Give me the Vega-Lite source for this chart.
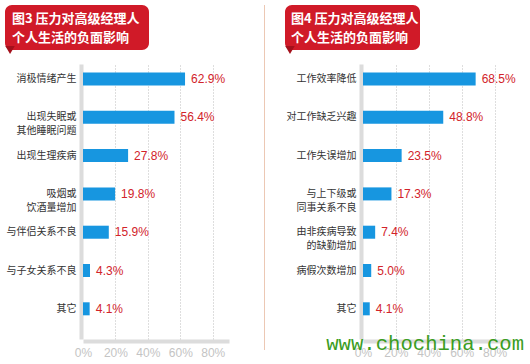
{
  "$schema": "https://vega.github.io/schema/vega-lite/v6.json",
  "background": "white",
  "padding": {"left": 5, "top": 5, "right": 10, "bottom": 0},
  "config": {
    "view": {"stroke": null},
    "font": "Noto Sans CJK SC",
    "axis": {"labelFont": "Noto Sans CJK SC"}
  },
  "datasets": {
    "left": [
      {"item": "消极情绪产生", "pct": 0.629},
      {"item": "出现失眠或\n其他睡眠问题", "pct": 0.564},
      {"item": "出现生理疾病", "pct": 0.278},
      {"item": "吸烟或\n饮酒量增加", "pct": 0.198},
      {"item": "与伴侣关系不良", "pct": 0.159},
      {"item": "与子女关系不良", "pct": 0.043},
      {"item": "其它", "pct": 0.041}
    ],
    "right": [
      {"item": "工作效率降低", "pct": 0.685},
      {"item": "对工作缺乏兴趣", "pct": 0.488},
      {"item": "工作失误增加", "pct": 0.235},
      {"item": "与上下级或\n同事关系不良", "pct": 0.173},
      {"item": "由非疾病导致\n的缺勤增加", "pct": 0.074},
      {"item": "病假次数增加", "pct": 0.05},
      {"item": "其它", "pct": 0.041}
    ],
    "titleL": [{"t": "图3  压力对高级经理人\n个人生活的负面影响"}],
    "titleR": [{"t": "图4  压力对高级经理人\n个人生活的负面影响"}],
    "empty": []
  },
  "spacing": 35,
  "hconcat": [
    {
      "spacing": 9,
      "vconcat": [
        {
          "width": 144,
          "height": 45,
          "view": {"fill": "#d01a28", "cornerRadius": 7, "stroke": null},
          "data": {"name": "titleL"},
          "layer": [
            {
              "mark": {"type": "point", "shape": "triangle-down", "filled": true, "color": "#a3101b", "opacity": 1, "size": 90},
              "encoding": {
                "x": {"datum": 0.035, "type": "quantitative", "scale": {"domain": [0, 1]}, "axis": null},
                "y": {"datum": 0, "type": "quantitative", "scale": {"domain": [0, 1]}, "axis": null}
              }
            },
            {
              "mark": {"type": "text", "align": "left", "baseline": "top", "color": "white", "fontSize": 13, "fontWeight": "bold", "lineHeight": 18.5, "lineBreak": "\n", "dx": 7, "dy": 8},
              "encoding": {
                "text": {"field": "t", "type": "nominal"},
                "x": {"datum": 0, "type": "quantitative", "scale": {"domain": [0, 1]}, "axis": null},
                "y": {"datum": 1, "type": "quantitative", "scale": {"domain": [0, 1]}, "axis": null}
              }
            }
          ]
        },
        {
          "spacing": 0,
          "hconcat": [
            {"width": 1, "height": 1, "data": {"name": "empty"}, "mark": "text", "encoding": {}},
            {
              "width": 146,
              "height": 275,
              "data": {"name": "left"},
              "encoding": {
                "y": {
                  "field": "item", "type": "nominal", "sort": null,
                  "scale": {"paddingInner": 0.66, "paddingOuter": 0.42, "align": 0.264},
                  "axis": {"title": null, "labelExpr": "split(datum.label, '\\n')", "labelFontSize": 10, "labelColor": "#333333", "labelPadding": 5, "labelLineHeight": 14, "ticks": false, "domainColor": "#dcdcdc", "domainWidth": 4, "offset": 2}
                },
                "x": {
                  "field": "pct", "type": "quantitative",
                  "scale": {"domain": [0, 0.9], "nice": false},
                  "axis": {"title": null, "values": [0, 0.2, 0.4, 0.6, 0.8], "format": ".0%", "ticks": false, "labelFlush": false, "domainColor": "#dcdcdc", "domainWidth": 4, "offset": 2, "labelColor": "#c4c4c4", "labelFontSize": 12, "labelFont": "Liberation Sans", "labelPadding": 6, "grid": true, "gridDash": [1, 2], "gridColor": "#bdbdbd", "gridOpacity": {"condition": {"test": "datum.value === 0", "value": 0}, "value": 1}}
                }
              },
              "layer": [
                {"mark": {"type": "bar", "color": "#1796e0"}},
                {
                  "mark": {"type": "text", "align": "left", "baseline": "middle", "dx": 6, "color": "#d2232a", "fontSize": 12, "font": "Liberation Sans"},
                  "encoding": {"text": {"field": "pct", "type": "quantitative", "format": ".1%"}}
                }
              ]
            }
          ]
        }
      ]
    },
    {
      "spacing": 20,
      "hconcat": [
        {"width": 1, "height": 345, "view": {"fill": "#ecc8b4", "stroke": null}, "data": {"name": "empty"}, "mark": "text", "encoding": {}},
        {
          "spacing": 9,
          "vconcat": [
            {
              "width": 135,
              "height": 45,
              "view": {"fill": "#d01a28", "cornerRadius": 7, "stroke": null},
              "data": {"name": "titleR"},
              "layer": [
                {
                  "mark": {"type": "point", "shape": "triangle-down", "filled": true, "color": "#a3101b", "opacity": 1, "size": 90},
                  "encoding": {
                    "x": {"datum": 0.037, "type": "quantitative", "scale": {"domain": [0, 1]}, "axis": null},
                    "y": {"datum": 0, "type": "quantitative", "scale": {"domain": [0, 1]}, "axis": null}
                  }
                },
                {
                  "mark": {"type": "text", "align": "left", "baseline": "top", "color": "white", "fontSize": 13, "fontWeight": "bold", "lineHeight": 18.5, "lineBreak": "\n", "dx": 6, "dy": 8},
                  "encoding": {
                    "text": {"field": "t", "type": "nominal"},
                    "x": {"datum": 0, "type": "quantitative", "scale": {"domain": [0, 1]}, "axis": null},
                    "y": {"datum": 1, "type": "quantitative", "scale": {"domain": [0, 1]}, "axis": null}
                  }
                }
              ]
            },
            {
              "spacing": 0,
              "hconcat": [
                {"width": 1, "height": 1, "data": {"name": "empty"}, "mark": "text", "encoding": {}},
                {
                  "width": 148,
                  "height": 275,
                  "title": {"text": "www.chochina.com", "orient": "bottom", "anchor": "end", "frame": "group", "offset": -24, "dx": 13, "color": "#3b9d1f", "font": "Liberation Mono", "fontSize": 20.6, "fontWeight": "normal"},
                  "data": {"name": "right"},
                  "encoding": {
                    "y": {
                      "field": "item", "type": "nominal", "sort": null,
                      "scale": {"paddingInner": 0.66, "paddingOuter": 0.42, "align": 0.264},
                      "axis": {"title": null, "labelExpr": "split(datum.label, '\\n')", "labelFontSize": 10, "labelColor": "#333333", "labelPadding": 5, "labelLineHeight": 14, "ticks": false, "domainColor": "#dcdcdc", "domainWidth": 4, "offset": 2}
                    },
                    "x": {
                      "field": "pct", "type": "quantitative",
                      "scale": {"domain": [0, 0.9], "nice": false},
                      "axis": {"title": null, "values": [0, 0.2, 0.4, 0.6, 0.8], "format": ".0%", "ticks": false, "labelFlush": false, "domainColor": "#dcdcdc", "domainWidth": 4, "offset": 2, "labelColor": "#c4c4c4", "labelFontSize": 12, "labelFont": "Liberation Sans", "labelPadding": 6, "grid": true, "gridDash": [1, 2], "gridColor": "#bdbdbd", "gridOpacity": {"condition": {"test": "datum.value === 0", "value": 0}, "value": 1}}
                    }
                  },
                  "layer": [
                    {"mark": {"type": "bar", "color": "#1796e0"}},
                    {
                      "mark": {"type": "text", "align": "left", "baseline": "middle", "dx": 6, "color": "#d2232a", "fontSize": 12, "font": "Liberation Sans"},
                      "encoding": {"text": {"field": "pct", "type": "quantitative", "format": ".1%"}}
                    }
                  ]
                }
              ]
            }
          ]
        }
      ]
    }
  ]
}
